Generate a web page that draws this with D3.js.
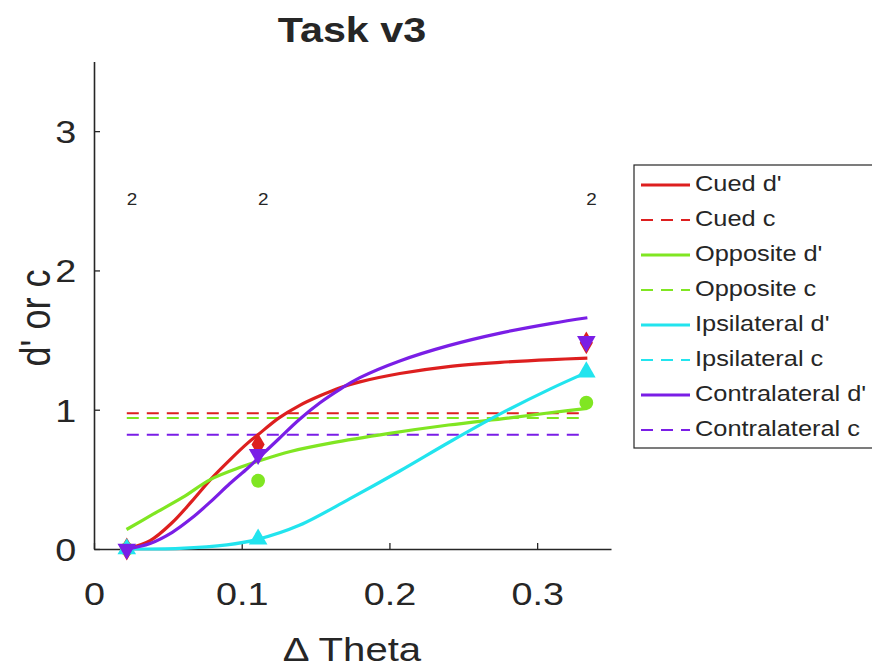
<!DOCTYPE html>
<html><head><meta charset="utf-8">
<script src="https://cdn.jsdelivr.net/npm/d3@7"></script>
<style>body{margin:0;background:#fff}svg{display:block}text{font-family:"Liberation Sans",Arial,sans-serif;fill:#262626}</style>
</head><body>
<svg id="c" width="872" height="668"></svg>
<script>
// ---- data ----
const seriesNames = ["Cued d'","Cued c","Opposite d'","Opposite c","Ipsilateral d'","Ipsilateral c","Contralateral d'","Contralateral c"];
const groups = ["Cued","Opposite","Ipsilateral","Contralateral"];
const colors = ["#dd1f1f","#80e622","#22e4ee","#7a1ee6"];
const markerTypes = ["diamond","circle","triangleUp","triangleDown"];
const xData = [0.0222, 0.1111, 0.3333];
const cuedPts = [0, 0.75, 1.48];
const oppositePts = [0, 0.49, 1.05];
const ipsiPts = [0, 0.07, 1.27];
const contraPts = [0, 0.68, 1.49];
const cValues = [0.975, 0.94, null, 0.82];
const countLabels = ["2","2","2"];
const countLabelY = 2.5;
// fitted curves
const curveX = {
  cued:   [0.022,0.038,0.053,0.066,0.079,0.092,0.104,0.111,0.125,0.139,0.153,0.167,0.18,0.207,0.24,0.275,0.31,0.334],
  opp:    [0.022,0.04,0.06,0.079,0.1,0.111,0.133,0.16,0.2,0.24,0.28,0.31,0.334],
  ipsi:   [0.022,0.058,0.09,0.111,0.139,0.173,0.207,0.241,0.275,0.309,0.334],
  contra: [0.022,0.038,0.053,0.066,0.079,0.092,0.104,0.111,0.125,0.139,0.153,0.167,0.18,0.207,0.24,0.275,0.31,0.334]
};
const curveY = {
  cued:   [0,0.06,0.19,0.34,0.5,0.64,0.76,0.82,0.94,1.03,1.1,1.16,1.2,1.26,1.31,1.34,1.36,1.37],
  opp:    [0.14,0.25,0.37,0.5,0.59,0.63,0.7,0.76,0.83,0.89,0.94,0.98,1.01],
  ipsi:   [0,0.005,0.03,0.07,0.17,0.36,0.56,0.77,0.97,1.15,1.27],
  contra: [0,0.04,0.12,0.22,0.34,0.47,0.58,0.65,0.79,0.93,1.05,1.15,1.23,1.35,1.46,1.55,1.62,1.66]
};
const curveKeys = ["cued","opp","ipsi","contra"];
const pointSets = [cuedPts, oppositePts, ipsiPts, contraPts];
const xTicks = [0,0.1,0.2,0.3];
const yTicks = [0,1,2,3];

// ---- drawing ----
const SX = 1.18;
const svg = d3.select("#c");
const x = d3.scaleLinear().domain([0,0.35]).range([94,611]);
const y = d3.scaleLinear().domain([0,3.5]).range([549,61.5]);
const axisCol = "#262626";

// axes
const gx = svg.append("g").attr("transform","translate(0,549)")
  .call(d3.axisBottom(x).tickValues(xTicks).tickFormat(d=>d===0?"0":d3.format(".1f")(d)).tickSizeInner(-6).tickSizeOuter(0).tickPadding(33));
const gy = svg.append("g").attr("transform","translate(94,0)")
  .call(d3.axisLeft(y).tickValues(yTicks).tickFormat(d3.format("d")).tickSizeInner(-6).tickSizeOuter(0));
[gx,gy].forEach(g=>{
  g.select(".domain").attr("stroke",axisCol).attr("stroke-width",1.6);
  g.selectAll(".tick line").attr("stroke",axisCol).attr("stroke-width",1.3);
  g.selectAll(".tick text").attr("fill",axisCol).style("font-size","32px").attr("font-family",null);
});
gx.selectAll(".tick text").attr("transform",`scale(${SX},1)`);
gy.selectAll(".tick text").attr("x",-15).attr("dy","0.36em").attr("transform",`scale(${SX},1)`);

// c lines (dashed)
cValues.forEach((v,i)=>{
  if(v===null) return;
  svg.append("line").attr("x1",x(xData[0])).attr("x2",x(xData[2]))
    .attr("y1",y(v)).attr("y2",y(v))
    .attr("stroke",colors[i]).attr("stroke-width",2).attr("stroke-dasharray","12,8");
});

// fitted d' curves and markers, in MATLAB draw order
const line = d3.line().x(d=>x(d[0])).y(d=>y(d[1])).curve(d3.curveCatmullRom.alpha(0.5));
function marker(type){
  if(type==="diamond") return d3.symbol(d3.symbolDiamond,150)();
  if(type==="circle") return d3.symbol(d3.symbolCircle,150)();
  return d3.symbol(d3.symbolTriangle,150)();
}
curveKeys.forEach((k,i)=>{
  const pts = curveX[k].map((xv,j)=>[xv,curveY[k][j]]);
  svg.append("path").attr("d",line(pts)).attr("fill","none")
    .attr("stroke",colors[i]).attr("stroke-width",3.2);
  pointSets[i].forEach((v,j)=>{
    const rot = markerTypes[i]==="triangleDown"?" rotate(180)":"";
    svg.append("path").attr("d",marker(markerTypes[i]))
      .attr("transform",`translate(${x(xData[j])},${y(v)})${rot}`)
      .attr("fill",colors[i]);
  });
});

// count labels
countLabels.forEach((t,j)=>{
  svg.append("text").text(t)
    .attr("transform",`translate(${x(xData[j])},${y(countLabelY)}) scale(${SX},1)`)
    .attr("dominant-baseline","middle").style("font-size","16px").attr("fill","#1a1a1a");
});

// title and labels
svg.append("text").text("Task v3").attr("transform",`translate(352,42) scale(${SX},1)`)
  .attr("text-anchor","middle").style("font-size","35px").style("font-weight","bold").attr("fill","#000");
svg.append("text").text("\u0394 Theta").attr("transform",`translate(352,661) scale(${SX},1)`)
  .attr("text-anchor","middle").style("font-size","34px");
svg.append("text").text("d' or c").attr("transform",`translate(50,318) rotate(-90) scale(1,${SX})`)
  .attr("text-anchor","middle").style("font-size","36px");

// legend
const lg = svg.append("g");
lg.append("rect").attr("x",634).attr("y",165).attr("width",280).attr("height",283)
  .attr("fill","#fff").attr("stroke",axisCol).attr("stroke-width",1.2);
seriesNames.forEach((name,i)=>{
  const yy = 185 + i*35.0;
  const col = colors[Math.floor(i/2)];
  const dashed = i%2===1;
  lg.append("line").attr("x1",641).attr("x2",690).attr("y1",yy).attr("y2",yy)
    .attr("stroke",col).attr("stroke-width",dashed?2:3.2)
    .attr("stroke-dasharray",dashed?"12,8":null);
  lg.append("text").text(name).attr("transform",`translate(695,${yy}) scale(${SX},1)`)
    .attr("dominant-baseline","middle").style("font-size","21.5px");
});
</script>
</body></html>
